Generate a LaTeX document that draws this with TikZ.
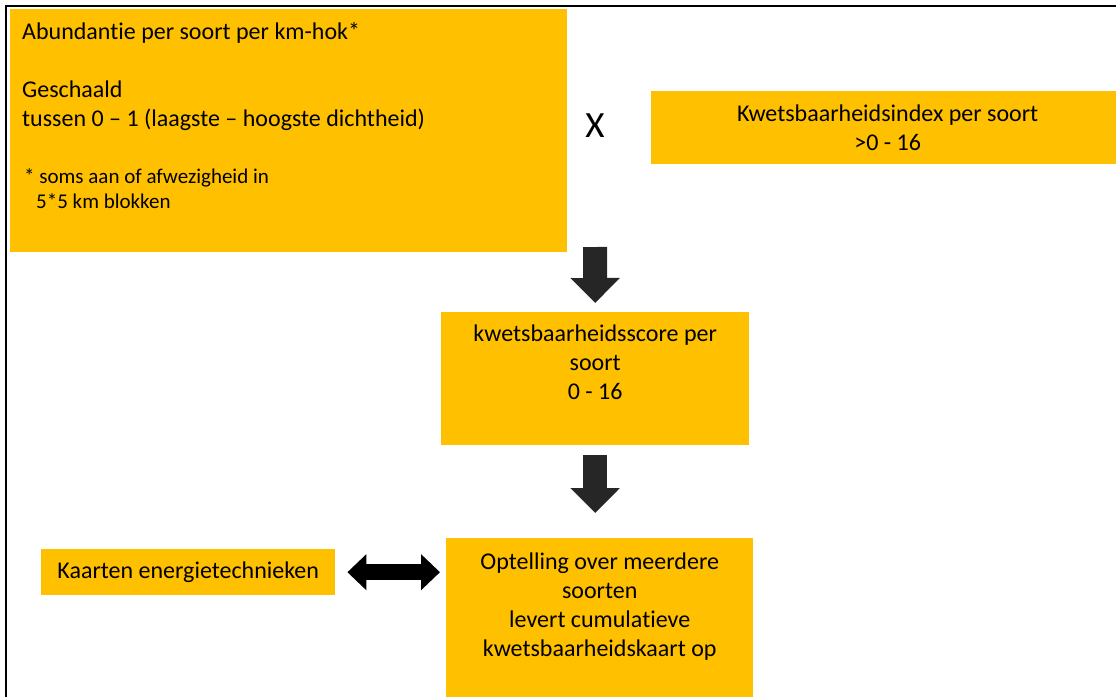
\documentclass[tikz,border=0pt]{standalone}
\usepackage{fontspec}
\setmainfont{Carlito}[Ligatures=NoCommon]
\usepackage{xcolor}
\usepackage{tikz}
\usetikzlibrary{arrows.meta,positioning}
\definecolor{boxgold}{HTML}{FFC000}
\definecolor{arrowgrey}{HTML}{262626}

\begin{document}
\begin{tikzpicture}[
        x=1pt, y=-1pt,
        font=\fontsize{24}{29}\selectfont,
        ybox/.style={fill=boxgold, inner sep=0pt, align=center, text=black},
        txt/.style={inner sep=0pt, align=left, text=black},
        blockarr/.style={arrowgrey, line width=24pt, -{Triangle[length=25pt, width=48pt]}},
        duoarr/.style={black, line width=16pt, {Triangle[length=19pt, width=35pt]}-{Triangle[length=19pt, width=35pt]}}
    ]
        \useasboundingbox (0,0) rectangle (1116,697);
        \draw[line width=2pt] (6,697) -- (6,6) -- (1116,6);

        % top row
        \node[ybox, anchor=north west, minimum width=557pt, minimum height=243pt] (abund) at (10,9) {};
        \node[txt, anchor=north west] (abundtxt) at (22,22) {Abundantie per soort per km-hok*\\[29pt]Geschaald\\tussen 0 -- 1 (laagste -- hoogste dichtheid)};
        \node[txt, anchor=north west, font=\fontsize{21}{25.5}\selectfont] (abundnote) at (24,168) {* soms aan of afwezigheid in\\\hspace*{12pt}5*5 km blokken};
        \node[font=\fontsize{37}{37}\selectfont, inner sep=0pt] (times) at (595,126) {X};
        \node[ybox, anchor=north west, minimum width=473pt, minimum height=73pt] (kindex) at (651,91) {Kwetsbaarheidsindex per soort\\>0 - 16};

        % middle and bottom
        \coordinate (split) at (595,247);
        \node[ybox, anchor=north west, minimum width=308pt, minimum height=133pt] (kscore) at (441,312) {kwetsbaarheidsscore per\\soort\\0 - 16\\[4pt]\mbox{}};
        \node[ybox, anchor=north west, minimum width=307pt, minimum height=159pt] (optel) at (446,538) {Optelling over meerdere\\soorten\\levert cumulatieve\\kwetsbaarheidskaart op\\[-2pt]\mbox{}};
        \node[ybox, anchor=north west, minimum width=294pt, minimum height=46pt] (kaart) at (41,549) {Kaarten energietechnieken};

        \draw[blockarr, shorten >=9pt] (split) -- (kscore.north);
        \draw[blockarr, shorten <=10pt, shorten >=25pt] (kscore.south) -- (kscore.south |- optel.north);
        \draw[duoarr, shorten <=12pt, shorten >=6pt] (kaart.east) -- (kaart.east -| optel.west);
    \end{tikzpicture}
\end{document}
